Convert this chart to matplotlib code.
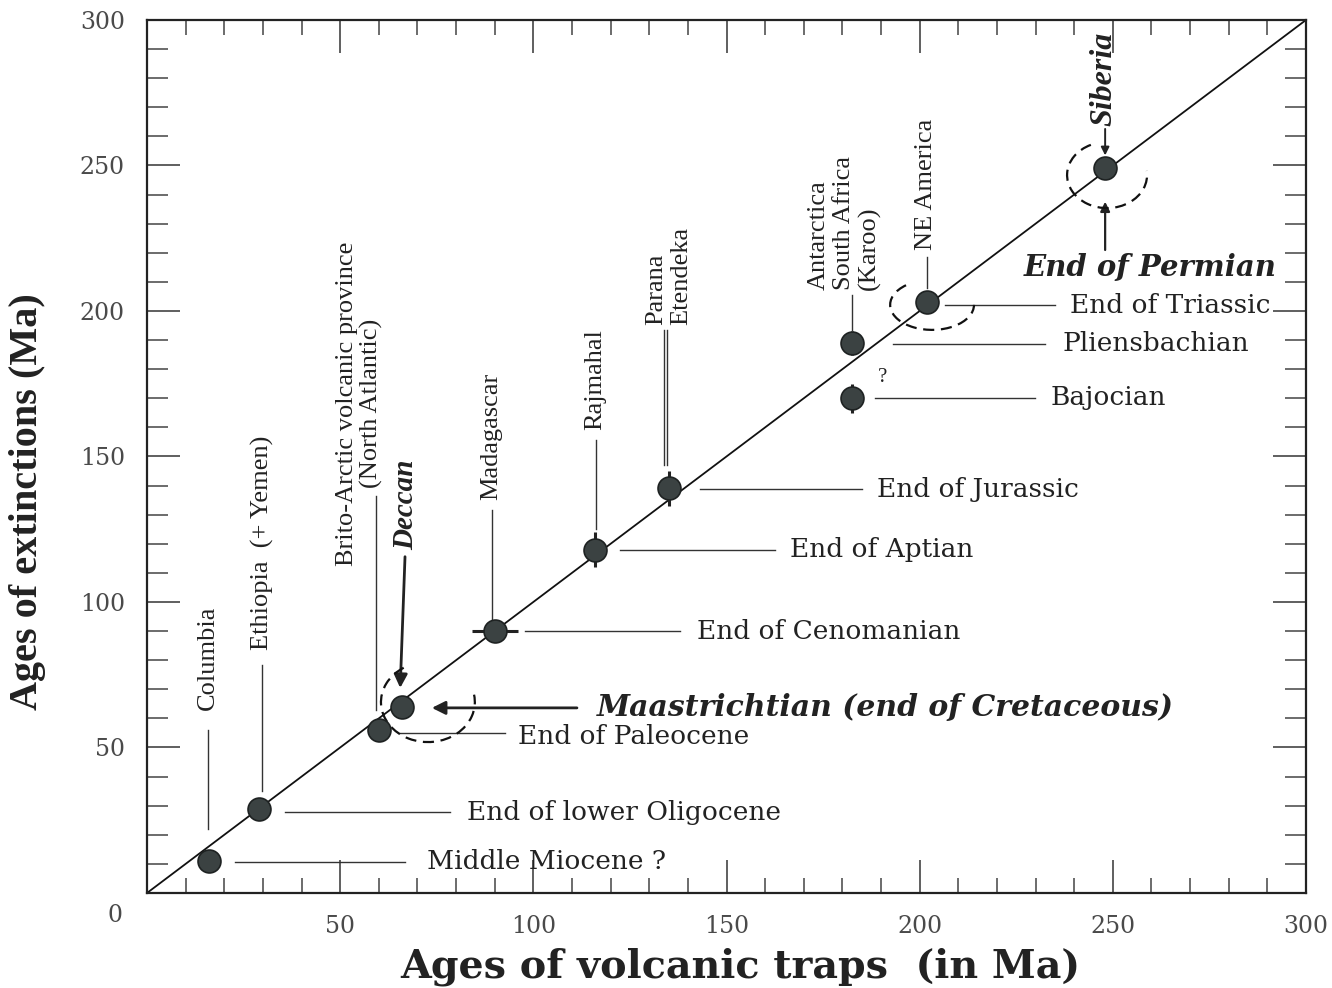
"""Volcanic traps vs. extinction ages."""
import matplotlib
matplotlib.use('Agg')
import matplotlib.pyplot as plt
from matplotlib.patches import Arc
from matplotlib.ticker import MultipleLocator, FuncFormatter

# ── data (Ma) ──
provinces = ['Columbia', 'Ethiopia  (+ Yemen)', 'Brito-Arctic volcanic province\n(North Atlantic)',
             'Deccan', 'Madagascar', 'Rajmahal', 'Parana\nEtendeka',
             'Antarctica\nSouth Africa\n(Karoo)', '?', 'NE America', 'Siberia']
trap_ages = [16, 29, 60, 66, 90, 116, 135, 182.5, 182.5, 202, 248]
ext_ages = [11, 29, 56, 64, 90, 118, 139, 189, 170, 203, 249]
trap_err = [0, 0, 0, 0, 6, 0, 0, 0, 0, 0, 0]
ext_err = [0, 0, 0, 0, 0, 6, 6, 4, 5, 0, 0]
extinctions = ['Middle Miocene ?', 'End of lower Oligocene', 'End of Paleocene',
               'Maastrichtian (end of Cretaceous)', 'End of Cenomanian', 'End of Aptian',
               'End of Jurassic', 'Pliensbachian', 'Bajocian', 'End of Triassic', 'End of Permian']

SERIF = 'Liberation Serif'
WIDE = 'DejaVu Serif'
INK = '#222222'

fig = plt.figure(figsize=(13.32, 9.88), dpi=100)
fig.patch.set_facecolor('white')
ax = fig.add_axes([0.1104, 0.0962, 0.8701, 0.8836])
ax.set_xlim(0, 300)
ax.set_ylim(0, 300)

# diagonal
ax.plot([0, 300], [0, 300], color='#111111', lw=1.3, zorder=2)

# error marks + points
ax.errorbar(trap_ages, ext_ages, xerr=trap_err, yerr=ext_err, fmt='none',
            ecolor='#222222', elinewidth=2.2, capsize=0, zorder=3)
ax.plot(trap_ages, ext_ages, 'o', ms=16.5, mfc='#3b4242', mec='#1e2222', mew=1.2, zorder=4)

# ── vertical (volcanic province) labels ──
# (index, text x, text bottom y, line x list, line y0, line y1, style)
vlab = [
    (0, 15.8, 63.0, [15.8], 56, 22, 'normal'),
    (1, 29.8, 83.5, [29.8], 78.5, 35, 'normal'),
    (2, 55.0, 112.5, [59.3], 136.5, 63, 'normal'),
    (3, 67.0, 118.0, None, None, None, 'bold'),
    (4, 89.0, 135.0, [89.3], 131.5, 94, 'normal'),
    (5, 116.0, 159.0, [116.2], 155.5, 125, 'normal'),
    (6, 135.0, 195.3, [133.7, 134.7], 193.5, 147, 'normal'),
    (7, 180.5, 207.3, [182.5], 205.5, 193.5, 'normal'),
    (9, 201.6, 221.0, [201.9], 218.5, 208, 'normal'),
]
for i, tx, ty, lxs, ly0, ly1, wt in vlab:
    name = provinces[i]
    if wt == 'bold':
        ax.text(tx, ty, name, rotation=90, ha='center', va='bottom', fontsize=21,
                family=SERIF, fontweight='bold', style='italic', color=INK)
    else:
        ax.text(tx, ty, name, rotation=90, ha='center', va='bottom', fontsize=19,
                family=SERIF, color=INK, linespacing=1.15,
                multialignment='center' if i == 2 else 'left')
    if lxs:
        for lx in lxs:
            ax.plot([lx, lx], [ly0, ly1], color='#333333', lw=1.0, zorder=2)

# Deccan arrow
ax.annotate('', xy=(trap_ages[3] - 0.5, 69.5), xytext=(66.8, 116.5),
            arrowprops=dict(arrowstyle='-|>', color='#222222', lw=2.0, mutation_scale=20))

# Siberia label + arrow
ax.text(247.6, 263.5, provinces[10], rotation=90, ha='center', va='bottom', fontsize=23,
        family=SERIF, fontweight='bold', style='italic', color=INK)
ax.annotate('', xy=(trap_ages[10], 252.5), xytext=(trap_ages[10], 263.5),
            arrowprops=dict(arrowstyle='-|>', color='#222222', lw=1.4, mutation_scale=12))

# "?" next to Bajocian point
ax.text(190.5, 177, '?', fontsize=15, family=SERIF, color=INK, ha='center', va='center')

# ── horizontal (extinction) labels ──
# (index, line x0, line x1, line y, text x, text y)
hlab = [
    (0, 22.8, 66.8, 10.7, 72.5, 10.7),
    (1, 35.7, 78.4, 27.8, 82.8, 27.8),
    (2, 65.5, 92.7, 55.0, 96.0, 53.6),
    (4, 97.9, 138.0, 90.0, 142.4, 90.0),
    (5, 122.4, 162.6, 117.9, 166.5, 117.9),
    (6, 143.2, 185.1, 138.8, 189.0, 138.8),
    (7, 193.0, 232.5, 188.7, 236.9, 188.7),
    (8, 188.5, 229.9, 170.1, 233.8, 170.1),
    (9, 206.6, 235.0, 202.0, 239.0, 202.0),
]
for i, x0, x1, ly, tx, ty in hlab:
    ax.plot([x0, x1], [ly, ly], color='#333333', lw=1.0, zorder=2)
    ax.text(tx, ty, extinctions[i], fontsize=19, family=WIDE, color=INK,
            ha='left', va='center')

# Maastrichtian arrow + label
ax.annotate('', xy=(73.0, 63.6), xytext=(112.0, 63.6),
            arrowprops=dict(arrowstyle='-|>', color='#222222', lw=2.0, mutation_scale=20))
ax.text(116.5, 63.6, extinctions[3], fontsize=21.5, family=WIDE, fontweight='bold',
        style='italic', color=INK, ha='left', va='center')

# End of Permian label + arrow
ax.text(259.6, 214.8, extinctions[10], fontsize=21, family=WIDE, fontweight='bold',
        style='italic', color=INK, ha='center', va='center')
ax.annotate('', xy=(trap_ages[10], 238.5), xytext=(trap_ages[10], 220.0),
            arrowprops=dict(arrowstyle='-|>', color='#222222', lw=1.6, mutation_scale=14))

# dashed partial circles around key events
for cx, cy, w, h, t1, t2 in [(72.7, 65.6, 24.3, 27.5, 118, 12),
                              (203.2, 202.1, 21.7, 17.2, 135, 0),
                              (248.5, 246.7, 20.7, 22.7, 112, 8)]:
    ax.add_patch(Arc((cx, cy), w, h, theta1=t1, theta2=t2, color='#111111',
                     lw=1.6, ls=(0, (5, 3)), zorder=3))

# ── axes styling ──
for s in ax.spines.values():
    s.set_linewidth(1.6)
    s.set_color('#222222')
ax.xaxis.set_major_locator(MultipleLocator(50))
ax.xaxis.set_minor_locator(MultipleLocator(10))
ax.yaxis.set_major_locator(MultipleLocator(50))
ax.yaxis.set_minor_locator(MultipleLocator(10))
no_zero = FuncFormatter(lambda v, p: '' if v == 0 else f'{v:.0f}')
ax.xaxis.set_major_formatter(no_zero)
ax.yaxis.set_major_formatter(no_zero)
ax.tick_params(which='both', direction='in', top=True, right=True, color='#444444')
ax.tick_params(which='major', length=24, width=1.2, pad=16, labelsize=17,
               labelcolor='#4a4a4a')
ax.tick_params(which='minor', length=11, width=1.1)
ax.tick_params(axis='y', which='minor', length=15)
for lab in ax.get_xticklabels() + ax.get_yticklabels():
    lab.set_family(WIDE)
    lab.set_fontweight('light')

# shared origin "0" sits left of the corner
ax.text(-0.028, -0.026, '0', transform=ax.transAxes, ha='center', va='center',
        fontsize=17, family=WIDE, color='#4a4a4a')

ax.set_xlabel('Ages of volcanic traps  (in Ma)', fontsize=28.5, family=WIDE,
              fontweight='bold', color=INK)
ax.xaxis.set_label_coords(0.512, -0.062)
ax.set_ylabel('Ages of extinctions (Ma)', fontsize=29, family=SERIF,
              fontweight='bold', color=INK)
ax.yaxis.set_label_coords(-0.087, 0.448)

fig.savefig('out.png', dpi=100, facecolor='white')
